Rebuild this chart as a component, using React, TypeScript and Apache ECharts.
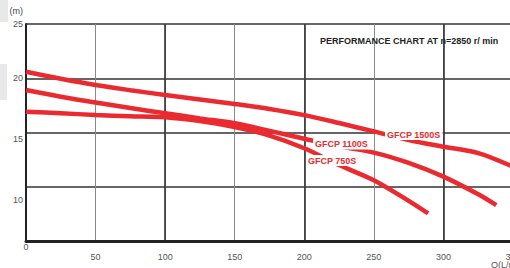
import React, { useEffect, useRef } from "react";
import * as echarts from "echarts";

const Q_1500 = [0, 25, 50, 75, 100, 125, 150, 175, 200, 225, 250, 275, 300, 325, 350];
const H_1500 = [20.6, 19.95, 19.37, 18.9, 18.46, 18.05, 17.63, 17.17, 16.6, 15.87, 15.1, 14.3, 13.69, 13.1, 11.85];

const Q_1100 = [0, 25, 50, 75, 100, 125, 150, 175, 200, 225, 250, 275, 300, 325, 338];
const H_1100 = [18.92, 18.3, 17.77, 17.25, 16.78, 16.3, 15.85, 15.15, 14.43, 13.72, 13.15, 12.2, 10.93, 9.3, 8.3];

const Q_750 = [0, 25, 50, 75, 100, 125, 150, 175, 200, 225, 250, 275, 289];
const H_750 = [16.92, 16.78, 16.61, 16.5, 16.4, 16.05, 15.5, 14.72, 13.55, 12.0, 10.6, 8.7, 7.55];

const SERIES_NAMES = ["GFCP 1500S", "GFCP 1100S", "GFCP 750S"];
const TITLE = "PERFORMANCE CHART AT n=2850 r/ min";
const Y_NAME = "(m)";
const X_NAME = "Q(L/min)";

const RED = "#ea2a2f";
const FONT = '"Liberation Sans", Arial, Helvetica, sans-serif';

const pairs = (q: number[], h: number[]) => q.map((v, i) => [v, h[i]]);

export default function App() {
  const ref = useRef<HTMLDivElement>(null);
  useEffect(() => {
    if (!ref.current) return;
    const chart = echarts.init(ref.current, undefined, { renderer: "svg" });
    const lineSeries = (name: string, data: number[][]) => ({
      name,
      type: "line",
      data,
      smooth: 0.3,
      symbol: "none",
      clip: true,
      lineStyle: { color: RED, width: 4.5 },
      z: 3,
    });
    chart.setOption({
      animation: false,
      backgroundColor: "#fff",
      textStyle: { fontFamily: FONT },
      title: {
        text: TITLE,
        left: 320,
        top: 36,
        padding: 0,
        textStyle: { fontSize: 9, fontWeight: "bold", color: "#222", fontFamily: FONT },
      },
      grid: { left: 26, right: -3, top: 24, bottom: 27, outerBoundsMode: "none", containLabel: false },
      xAxis: [
        {
          type: "value",
          min: 0,
          max: 350,
          interval: 50,
          axisLine: { show: true, onZero: false, lineStyle: { color: "#222", width: 3 } },
          axisTick: { show: false },
          splitLine: { show: true, lineStyle: { color: "#8a8a8a", width: 1 } },
          axisLabel: {
            margin: 1,
            fontSize: 9,
            lineHeight: 10,
            color: "#555",
            fontFamily: FONT,
            showMaxLabel: true,
            hideOverlap: false,
            formatter: (v: number) => (v === 0 ? "0" : "\n" + v),
          },
        },
        {
          type: "value",
          min: 0,
          max: 350,
          interval: 100,
          position: "bottom",
          axisLine: { show: false },
          axisTick: { show: false },
          axisLabel: { show: false },
          splitLine: { show: true, lineStyle: { color: "#333", width: 1.6 } },
        },
      ],
      yAxis: {
        type: "value",
        min: 5,
        max: 25,
        interval: 5,
        name: Y_NAME,
        nameLocation: "end",
        nameGap: 13,
        nameTextStyle: { fontSize: 9, color: "#444", align: "right", verticalAlign: "middle", padding: [0, 3, 0, 0], fontFamily: FONT },
        axisLine: { show: true, lineStyle: { color: "#222", width: 2 } },
        axisTick: { show: false },
        splitLine: { show: true, lineStyle: { color: "#333", width: 1.5 } },
        axisLabel: {
          margin: 3,
          fontSize: 9,
          lineHeight: 13,
          color: "#555",
          fontFamily: FONT,
          formatter: (v: number) =>
            v === 5 ? "" : v === 15 ? "\n15" : v === 10 ? "\n\n10" : String(v),
        },
      },
      series: [
        lineSeries(SERIES_NAMES[0], pairs(Q_1500, H_1500)),
        lineSeries(SERIES_NAMES[1], pairs(Q_1100, H_1100)),
        lineSeries(SERIES_NAMES[2], pairs(Q_750, H_750)),
      ],
      graphic: [
        { type: "rect", shape: { x: 0, y: 0, width: 8, height: 22 }, style: { fill: "#e8e8e8" }, z: 1 },
        { type: "rect", shape: { x: 0, y: 64, width: 7, height: 36 }, style: { fill: "#e8e8e8" }, z: 1 },
        {
          type: "text", x: 385, y: 134.5, z: 100,
          style: { text: SERIES_NAMES[0], fill: RED, font: `bold 9px ${FONT}`, backgroundColor: "#fff", padding: [1, 2], verticalAlign: "middle" },
        },
        {
          type: "text", x: 313, y: 144, z: 100,
          style: { text: SERIES_NAMES[1], fill: RED, font: `bold 9px ${FONT}`, backgroundColor: "#fff", padding: [1, 2], verticalAlign: "middle" },
        },
        {
          type: "text", x: 306, y: 160.5, z: 100,
          style: { text: SERIES_NAMES[2], fill: RED, font: `bold 9px ${FONT}`, backgroundColor: "#fff", padding: [1, 2], verticalAlign: "middle" },
        },
        {
          type: "text", x: 491, y: 265, z: 100,
          style: { text: X_NAME, fill: "#555", font: `9px ${FONT}`, verticalAlign: "middle" },
        },
      ],
    });
    return () => chart.dispose();
  }, []);
  return (
    <div
      ref={ref}
      style={{ position: "fixed", left: 0, top: 0, width: 510, height: 268 }}
    />
  );
}
